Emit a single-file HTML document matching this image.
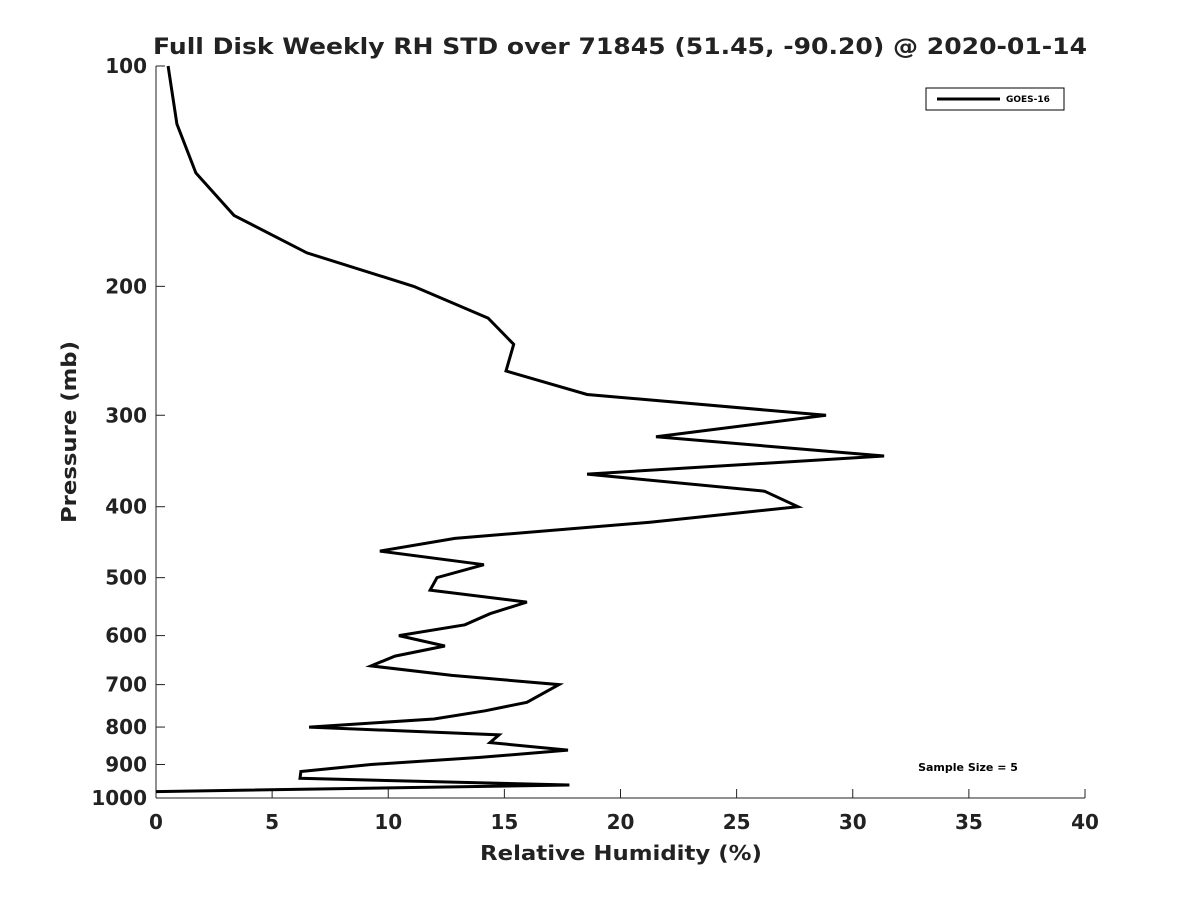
<!DOCTYPE html>
<html><head><meta charset="utf-8"><style>
body{margin:0;background:#fff;}
svg{font-family:"DejaVu Sans","Liberation Sans",sans-serif;}
</style></head><body>
<svg id="chart" width="1200" height="900" xmlns="http://www.w3.org/2000/svg">
<rect width="1200" height="900" fill="#fff"/>
<text x="620" y="54" text-anchor="middle" font-size="22" font-weight="bold" fill="#222" textLength="934" lengthAdjust="spacingAndGlyphs">Full Disk Weekly RH STD over 71845 (51.45, -90.20) @ 2020-01-14</text>
<g id="axes"></g>
<text x="621" y="860" text-anchor="middle" font-size="20" font-weight="bold" fill="#222" textLength="282" lengthAdjust="spacingAndGlyphs">Relative Humidity (%)</text>
<text transform="translate(76,432) rotate(-90)" text-anchor="middle" font-size="20" font-weight="bold" fill="#222" textLength="182" lengthAdjust="spacingAndGlyphs">Pressure (mb)</text>
<g>
<rect x="926" y="88" width="138" height="22" fill="#fff" stroke="#000" stroke-width="1"/>
<line x1="937" y1="99" x2="1000" y2="99" stroke="#000" stroke-width="3"/>
<text x="1006" y="102" font-size="9" font-weight="bold" fill="#000">GOES-16</text>
</g>
<text x="968" y="771" text-anchor="middle" font-size="11" font-weight="bold" fill="#000">Sample Size = 5</text>
</svg>
<script>
const xTicks=[0,5,10,15,20,25,30,35,40];
const yTicks=[100,200,300,400,500,600,700,800,900,1000];
const pressures=[100,120,140,160,180,200,221,240,261,281,300,321,341,361,381,400,420,442,460,480,500,520,540,560,580,600,620,640,660,680,700,740,760,780,800,820,840,860,880,900,920,940,960,980];
const rhStd=[0.52,0.9,1.72,3.36,6.5,11.1,14.3,15.4,15.07,18.56,28.85,21.53,31.35,18.56,26.2,27.64,21.27,12.87,9.64,14.12,12.1,11.8,15.97,14.38,13.3,10.46,12.44,10.29,9.26,12.74,17.35,15.97,14.17,11.97,6.59,14.77,14.38,17.74,13.95,9.26,6.24,6.2,17.8,0];
const X0=156,X1=1085,Y0=66,Y1=798;
const xs=v=>X0+(v-0)/40*(X1-X0);
const ys=p=>Y0+Math.log10(p/100)*(Y1-Y0);
const NS="http://www.w3.org/2000/svg";
const svg=document.getElementById('chart');
const g=document.getElementById('axes');
function mk(t,a,parent){const e=document.createElementNS(NS,t);for(const k in a)e.setAttribute(k,a[k]);(parent||g).appendChild(e);return e;}
let ax=mk('line',{x1:X0,y1:Y0,x2:X0,y2:Y1,stroke:'#222','stroke-width':1});


let bx=mk('line',{x1:X0,y1:Y1,x2:X1,y2:Y1,stroke:'#222','stroke-width':1});


xTicks.forEach(v=>{
 const x=xs(v);
 mk('line',{x1:x,y1:Y1,x2:x,y2:Y1-9,stroke:'#222','stroke-width':1});
 const t=mk('text',{x:x,y:Y1+31,'text-anchor':'middle','font-size':20,'font-weight':'bold',fill:'#222'});
 t.textContent=v;
 
 
});
yTicks.forEach(p=>{
 const y=ys(p);
 mk('line',{x1:X0,y1:y,x2:X0+9,y2:y,stroke:'#222','stroke-width':1});
 const t=mk('text',{x:X0-9,y:y+7,'text-anchor':'end','font-size':20,'font-weight':'bold',fill:'#222'});
 t.textContent=p;
 
 
});
const d=pressures.map((p,i)=>(i?'L':'M')+xs(rhStd[i]).toFixed(1)+','+ys(p).toFixed(1)).join(' ');
const line=mk('path',{d:d,fill:'none',stroke:'#000','stroke-width':3,'stroke-linejoin':'miter'},svg);


</script>
</body></html>
